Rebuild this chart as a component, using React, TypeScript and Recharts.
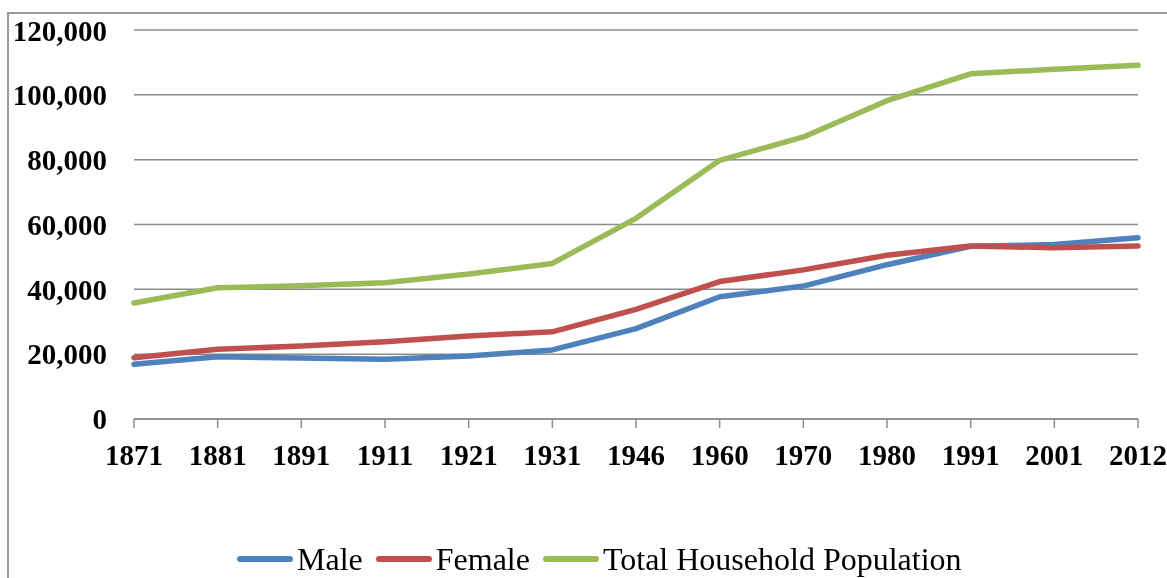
import { LineChart, Line, XAxis, YAxis, CartesianGrid, Legend } from "recharts";

/* census years */
const years = ["1871", "1881", "1891", "1911", "1921", "1931", "1946", "1960", "1970", "1980", "1991", "2001", "2012"];

/* population by series */
const male = [16900, 19200, 18800, 18400, 19400, 21300, 27900, 37700, 41000, 47600, 53300, 53800, 55900];
const female = [18900, 21500, 22500, 23800, 25600, 26900, 33800, 42400, 46000, 50500, 53400, 52800, 53400];
const total = [35800, 40500, 41100, 42000, 44700, 48000, 61900, 79800, 87000, 98200, 106500, 107900, 109100];

const yTicks = [0, 20000, 40000, 60000, 80000, 100000, 120000];

const series = [
  { key: "male", name: "Male", color: "#4F81BD" },
  { key: "female", name: "Female", color: "#C0504D" },
  { key: "total", name: "Total Household Population", color: "#9BBB59" },
];

const chartData = years.map((year, i) => ({
  year,
  male: male[i],
  female: female[i],
  total: total[i],
}));

const font = "'Liberation Serif', 'Times New Roman', serif";
const axisTick = { fill: "#000", fontSize: 29, fontWeight: 700, fontFamily: font };

/* legend drawn as one row of line swatches */
const renderLegend = () => (
  <div
    style={{
      display: "flex",
      alignItems: "center",
      height: 40,
      lineHeight: "40px",
      paddingLeft: 228,
      fontFamily: font,
      fontSize: 32,
      color: "#000",
      whiteSpace: "nowrap",
    }}
  >
    {series.map((s) => (
      <div key={s.key} style={{ display: "flex", alignItems: "center", marginRight: 13 }}>
        <svg width={56} height={8} style={{ marginRight: 4 }}>
          <line x1={3} y1={4} x2={53} y2={4} stroke={s.color} strokeWidth={6} strokeLinecap="round" />
        </svg>
        <span>{s.name}</span>
      </div>
    ))}
  </div>
);

const App = () => {
  return (
    <div
      style={{
        position: "fixed",
        left: 7,
        top: 12,
        width: 1160,
        height: 566,
        borderTop: "2px solid #999",
        borderLeft: "2px solid #999",
      }}
    >
      <LineChart
        width={1158}
        height={564}
        data={chartData}
        margin={{ top: 16, right: 29, bottom: 4, left: 0 }}
      >
        <CartesianGrid vertical={false} stroke="#8c8c8c" strokeWidth={1.5} />
        <XAxis
          dataKey="year"
          interval={0}
          height={115}
          tickSize={9}
          tickMargin={16}
          axisLine={{ stroke: "#8c8c8c", strokeWidth: 1.5 }}
          tickLine={{ stroke: "#8c8c8c", strokeWidth: 1.5 }}
          tick={axisTick}
        />
        <YAxis
          domain={[0, 120000]}
          ticks={yTicks}
          width={125}
          axisLine={false}
          tickLine={false}
          tickSize={0}
          tickMargin={27}
          tick={axisTick}
          tickFormatter={(v: number) => v.toLocaleString("en-US")}
        />
        {series.map((s) => (
          <Line
            key={s.key}
            type="linear"
            dataKey={s.key}
            name={s.name}
            stroke={s.color}
            strokeWidth={5.5}
            strokeLinecap="round"
            strokeLinejoin="round"
            dot={false}
            activeDot={false}
            isAnimationActive={false}
          />
        ))}
        <Legend
          verticalAlign="bottom"
          content={renderLegend}
          wrapperStyle={{ left: 0, width: 1158, top: 525, height: 40 }}
        />
      </LineChart>
    </div>
  );
};

export default App;
